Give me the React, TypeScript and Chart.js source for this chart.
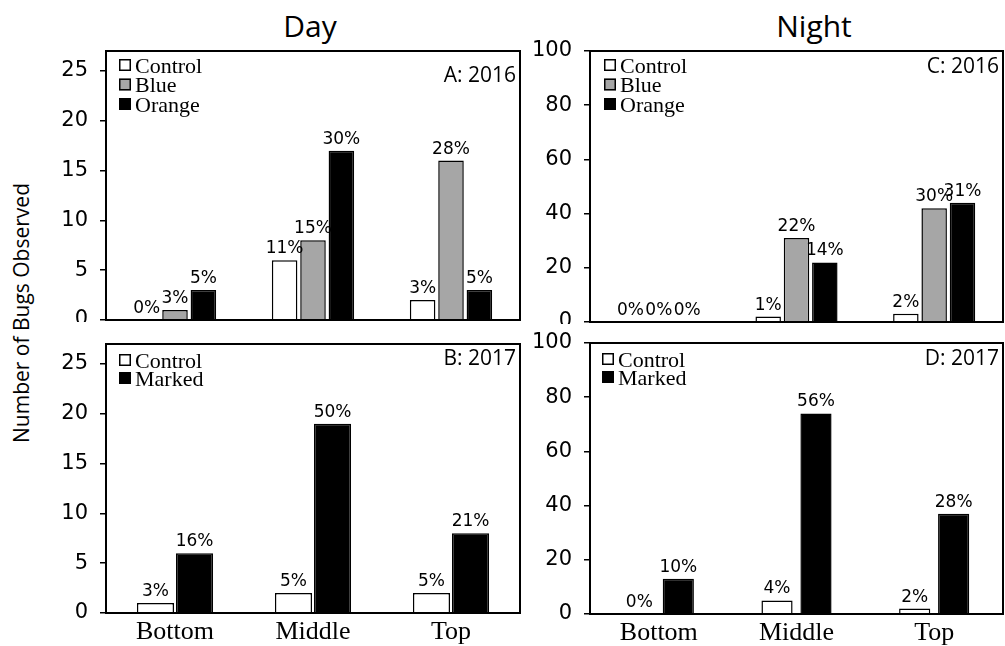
import React, { useEffect, useRef } from "react";
import { Chart, registerables } from "chart.js";
Chart.register(...registerables);

const positions = ["Bottom", "Middle", "Top"];

// Panel A: Day 2016
const dayControl2016 = [0, 6, 2];
const dayBlue2016 = [1, 8, 16];
const dayOrange2016 = [3, 17, 3];
const dayControl2016Pct = ["0%", "11%", "3%"];
const dayBlue2016Pct = ["3%", "15%", "28%"];
const dayOrange2016Pct = ["5%", "30%", "5%"];

// Panel B: Day 2017
const dayControl2017 = [1, 2, 2];
const dayMarked2017 = [6, 19, 8];
const dayControl2017Pct = ["3%", "5%", "5%"];
const dayMarked2017Pct = ["16%", "50%", "21%"];

// Panel C: Night 2016
const nightControl2016 = [0, 2, 3];
const nightBlue2016 = [0, 31, 42];
const nightOrange2016 = [0, 22, 44];
const nightControl2016Pct = ["0%", "1%", "2%"];
const nightBlue2016Pct = ["0%", "22%", "30%"];
const nightOrange2016Pct = ["0%", "14%", "31%"];

// Panel D: Night 2017
const nightControl2017 = [0, 5, 2];
const nightMarked2017 = [13, 74, 37];
const nightControl2017Pct = ["0%", "4%", "2%"];
const nightMarked2017Pct = ["10%", "56%", "28%"];

const dayTicks = [0, 5, 10, 15, 20, 25];
const dayMax = 27;
const nightTicks = [0, 20, 40, 60, 80, 100];
const nightMax = 100;

const WHITE = "#ffffff";
const GRAY = "#a6a6a6";
const BLACK = "#000000";

type Series = { label: string; data: number[]; pct: string[]; color: string };

type PanelProps = {
  left: number;
  top: number;
  width: number;
  height: number;
  yWidth: number;
  padTop: number;
  padBottom: number;
  xHeight: number;
  max: number;
  ticks: number[];
  series: Series[];
  catPct: number;
  barPct: number;
  tag: string;
  tagBase: number;
  legendX: number;
  legendY0: number;
  legendDy: number;
};

function Panel(p: PanelProps) {
  const ref = useRef<HTMLCanvasElement | null>(null);
  useEffect(() => {
    if (!ref.current) return;
    const decor = {
      id: "decor",
      afterDatasetsDraw(chart: any) {
        const ctx = chart.ctx as CanvasRenderingContext2D;
        const a = chart.chartArea;
        ctx.save();
        // percent labels
        ctx.font = '17px "DejaVu Sans"';
        ctx.fillStyle = "#000";
        ctx.textAlign = "center";
        ctx.textBaseline = "alphabetic";
        p.series.forEach((s, di) => {
          const meta = chart.getDatasetMeta(di);
          meta.data.forEach((el: any, i: number) => {
            ctx.fillText(s.pct[i], el.x, el.y - 7);
          });
        });
        // box
        ctx.lineWidth = 2;
        ctx.strokeStyle = "#000";
        ctx.strokeRect(a.left, a.top, a.right - a.left, a.bottom - a.top);
        // legend
        p.series.forEach((s, k) => {
          const cy = a.top + p.legendY0 + k * p.legendDy;
          const sx = a.left + p.legendX;
          ctx.fillStyle = s.color;
          ctx.fillRect(sx, cy - 6, 12, 12);
          ctx.lineWidth = 1.5;
          ctx.strokeStyle = "#000";
          ctx.strokeRect(sx + 0.75, cy - 5.25, 10.5, 10.5);
          ctx.fillStyle = "#000";
          ctx.font = '22px "Liberation Serif"';
          ctx.textAlign = "left";
          ctx.fillText(s.label, sx + 16, cy + 7.5);
        });
        // tag
        ctx.font = '21px "Open Sans"';
        ctx.textAlign = "right";
        ctx.fillStyle = "#000";
        ctx.fillText(p.tag, a.right - 4, a.top + p.tagBase);
        ctx.restore();
      },
    };
    const chart = new Chart(ref.current, {
      type: "bar",
      data: {
        labels: positions,
        datasets: p.series.map((s) => ({
          label: s.label,
          data: s.data,
          backgroundColor: s.color,
          borderColor: "#000",
          borderWidth: 1.5,
          barPercentage: p.barPct,
          categoryPercentage: p.catPct,
        })),
      },
      options: {
        responsive: false,
        animation: false,
        devicePixelRatio: 1,
        layout: { padding: { left: 0, top: p.padTop, right: 2, bottom: p.padBottom } },
        plugins: { legend: { display: false }, tooltip: { enabled: false } },
        scales: {
          x: {
            display: p.xHeight > 0,
            grid: { display: false, drawTicks: false },
            border: { display: false },
            ticks: {
              font: { family: "Liberation Serif", size: 26 },
              color: "#000",
              padding: 4,
            },
            afterFit: (s: any) => {
              s.height = p.xHeight;
              s.paddingLeft = 0;
              s.paddingRight = 0;
              s.paddingTop = 0;
              s.paddingBottom = 0;
            },
          },
          y: {
            min: 0,
            max: p.max,
            afterBuildTicks: (s: any) => {
              s.ticks = p.ticks.map((v) => ({ value: v }));
            },
            afterFit: (s: any) => {
              s.width = p.yWidth;
              s.paddingTop = 0;
              s.paddingBottom = 0;
              s.paddingLeft = 0;
              s.paddingRight = 0;
            },
            grid: {
              display: true,
              drawOnChartArea: false,
              drawTicks: true,
              tickLength: 6,
              color: "#000",
              lineWidth: 1.5,
            },
            border: { display: false },
            ticks: {
              font: { family: "DejaVu Sans", size: 21 },
              color: "#000",
              padding: 12,
            },
          },
        },
      },
      plugins: [decor],
    } as any);
    return () => chart.destroy();
  }, []);
  return (
    <canvas
      ref={ref}
      width={p.width}
      height={p.height}
      style={{ position: "absolute", left: p.left, top: p.top, width: p.width, height: p.height }}
    />
  );
}

export default function App() {
  return (
    <div
      style={{
        position: "absolute",
        left: 0,
        top: 0,
        width: 1005,
        height: 646,
        background: "#fff",
        overflow: "hidden",
      }}
    >
      <div
        style={{
          position: "absolute",
          left: 310,
          top: 11,
          transform: "translateX(-50%)",
          font: '30px "Open Sans"',
          lineHeight: "30px",
          whiteSpace: "nowrap",
        }}
      >
        Day
      </div>
      <div
        style={{
          position: "absolute",
          left: 814,
          top: 11,
          transform: "translateX(-50%)",
          font: '30px "Open Sans"',
          lineHeight: "30px",
          whiteSpace: "nowrap",
        }}
      >
        Night
      </div>
      <div
        style={{
          position: "absolute",
          left: 21,
          top: 313,
          transform: "translate(-50%, -50%) rotate(-90deg)",
          font: '21px "Open Sans"',
          lineHeight: "21px",
          whiteSpace: "nowrap",
        }}
      >
        Number of Bugs Observed
      </div>
      <Panel
        left={50}
        top={40}
        width={472}
        height={282}
        yWidth={56}
        padTop={11}
        padBottom={2}
        xHeight={0}
        max={dayMax}
        ticks={dayTicks}
        series={[
          { label: "Control", data: dayControl2016, pct: dayControl2016Pct, color: WHITE },
          { label: "Blue", data: dayBlue2016, pct: dayBlue2016Pct, color: GRAY },
          { label: "Orange", data: dayOrange2016, pct: dayOrange2016Pct, color: BLACK },
        ]}
        catPct={0.617}
        barPct={0.9}
        tag="A: 2016"
        tagBase={31}
        legendX={13}
        legendY0={14}
        legendDy={19.5}
      />
      <Panel
        left={50}
        top={333}
        width={472}
        height={313}
        yWidth={56}
        padTop={11}
        padBottom={0}
        xHeight={33}
        max={dayMax}
        ticks={dayTicks}
        series={[
          { label: "Control", data: dayControl2017, pct: dayControl2017Pct, color: WHITE },
          { label: "Marked", data: dayMarked2017, pct: dayMarked2017Pct, color: BLACK },
        ]}
        catPct={0.566}
        barPct={0.95}
        tag="B: 2017"
        tagBase={21}
        legendX={13}
        legendY0={16}
        legendDy={18}
      />
      <Panel
        left={528}
        top={40}
        width={477}
        height={284}
        yWidth={62}
        padTop={11}
        padBottom={2}
        xHeight={0}
        max={nightMax}
        ticks={nightTicks}
        series={[
          { label: "Control", data: nightControl2016, pct: nightControl2016Pct, color: WHITE },
          { label: "Blue", data: nightBlue2016, pct: nightBlue2016Pct, color: GRAY },
          { label: "Orange", data: nightOrange2016, pct: nightOrange2016Pct, color: BLACK },
        ]}
        catPct={0.617}
        barPct={0.9}
        tag="C: 2016"
        tagBase={22}
        legendX={14}
        legendY0={14}
        legendDy={19.5}
      />
      <Panel
        left={528}
        top={332}
        width={477}
        height={314}
        yWidth={62}
        padTop={11}
        padBottom={0}
        xHeight={32}
        max={nightMax}
        ticks={nightTicks}
        series={[
          { label: "Control", data: nightControl2017, pct: nightControl2017Pct, color: WHITE },
          { label: "Marked", data: nightMarked2017, pct: nightMarked2017Pct, color: BLACK },
        ]}
        catPct={0.566}
        barPct={0.8}
        tag="D: 2017"
        tagBase={22}
        legendX={12}
        legendY0={16}
        legendDy={18}
      />
    </div>
  );
}
